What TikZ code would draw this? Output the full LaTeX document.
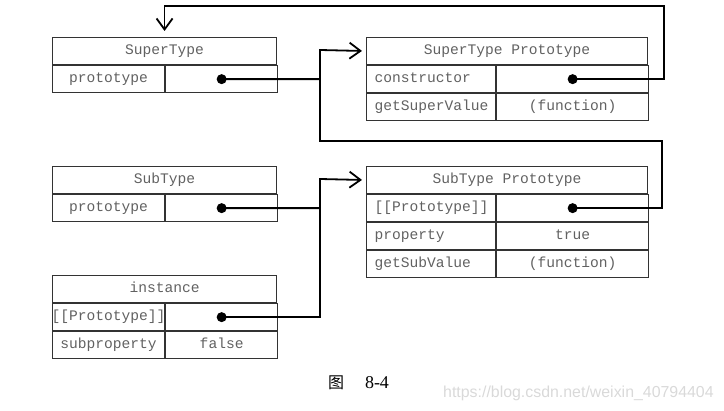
\documentclass[tikz,border=0pt]{standalone}
\usepackage{fontspec}
\setmonofont{Liberation Mono}
\newfontfamily\cjk{Noto Sans CJK SC}
\newfontfamily\capfont{Liberation Serif}
\newfontfamily\markfont{Liberation Sans}
\usetikzlibrary{positioning,arrows.meta}
\newcommand{\rowH}[0]{27pt}
\newcommand{\leftW}[0]{112pt}
\newcommand{\keyW}[0]{113pt}
\newcommand{\valW}[0]{152pt}
\newcommand{\boxFont}[0]{\ttfamily\fontsize{14.6}{16}\selectfont}

\begin{document}
\begin{tikzpicture}[x=1pt, y=-1pt]
  \tikzset{cell/.style={draw=black!80, line width=1.1pt, minimum height=\rowH, inner sep=0pt, text height=9pt, text depth=3pt, anchor=north west, font=\boxFont, text=black!62},
    key/.style={cell, text width=\keyW, inner xsep=8pt, align=left},
    dot/.style={circle, fill=black, minimum size=10pt, inner sep=0pt},
    link/.style={line width=1.8pt, arrows={-Straight Barb[length=11pt, width=16pt]}},
    bus/.style={line width=1.8pt}}
  \useasboundingbox (0,0) rectangle (724,411);
  \node[cell, minimum width=224pt] (stHead) at (52,37) {SuperType};
  \node[cell, minimum width=\leftW] (stKey) at (stHead.south west) {prototype};
  \node[cell, minimum width=\leftW, right=0pt of stKey] (stVal) {};
  \node[cell, minimum width=281pt] (spHead) at (366,37) {SuperType Prototype};
  \node[key] (spKey1) at (spHead.south west) {constructor};
  \node[cell, minimum width=\valW, right=0pt of spKey1] (spVal1) {};
  \node[key] (spKey2) at (spKey1.south west) {getSuperValue};
  \node[cell, minimum width=\valW, right=0pt of spKey2] (spVal2) {(function)};
  \node[cell, minimum width=224pt] (sbHead) at (52,166) {SubType};
  \node[cell, minimum width=\leftW] (sbKey) at (sbHead.south west) {prototype};
  \node[cell, minimum width=\leftW, right=0pt of sbKey] (sbVal) {};
  \node[cell, minimum width=281pt] (sbpHead) at (366,166) {SubType Prototype};
  \node[key] (sbpKey1) at (sbpHead.south west) {[[Prototype]]};
  \node[cell, minimum width=\valW, right=0pt of sbpKey1] (sbpVal1) {};
  \node[key] (sbpKey2) at (sbpKey1.south west) {property};
  \node[cell, minimum width=\valW, right=0pt of sbpKey2] (sbpVal2) {true};
  \node[key] (sbpKey3) at (sbpKey2.south west) {getSubValue};
  \node[cell, minimum width=\valW, right=0pt of sbpKey3] (sbpVal3) {(function)};
  \node[cell, minimum width=224pt] (inHead) at (52,275) {instance};
  \node[cell, minimum width=\leftW] (inKey1) at (inHead.south west) {\makebox[\leftW]{[[Prototype]]}};
  \node[cell, minimum width=\leftW, right=0pt of inKey1] (inVal1) {};
  \node[cell, minimum width=\leftW] (inKey2) at (inKey1.south west) {subproperty};
  \node[cell, minimum width=\leftW, right=0pt of inKey2] (inVal2) {false};
  \node[dot] (stDot) at (stVal.center) {};
  \node[dot] (ctorDot) at (spVal1.center) {};
  \node[dot] (sbDot) at (sbVal.center) {};
  \node[dot] (sbpDot) at (sbpVal1.center) {};
  \node[dot] (inDot) at (inVal1.center) {};
  \coordinate (busTop) at (320,50);
  \coordinate (busLow) at (320,179);
  \coordinate (busRight) at (662,141);
  \coordinate (loopTop) at (664,6);
  \draw[link, shorten >=4pt] (stDot.center) -| (busTop) -- (spHead.west);
  \draw[bus] (sbpDot.center) -| (busRight) -| (busTop);
  \draw[link, shorten >=6pt] (ctorDot.center) -| (loopTop) -| (stHead.north);
  \draw[link, shorten >=4pt] (sbDot.center) -| (busLow) -- (sbpHead.west);
  \draw[bus] (inDot.center) -| (busLow);
  \node[font=\cjk\fontsize{16}{16}\selectfont] (capFig) at (336,383) {图};
  \node[font=\capfont\fontsize{18}{18}\selectfont] (capNum) at (377,383) {8-4};
  \node[anchor=west, inner sep=0pt, text=black!15, font=\markfont\fontsize{15.9}{16}\selectfont] (mark) at (443,393) {https://blog.csdn.net/weixin\_40794404};
\end{tikzpicture}
\end{document}
